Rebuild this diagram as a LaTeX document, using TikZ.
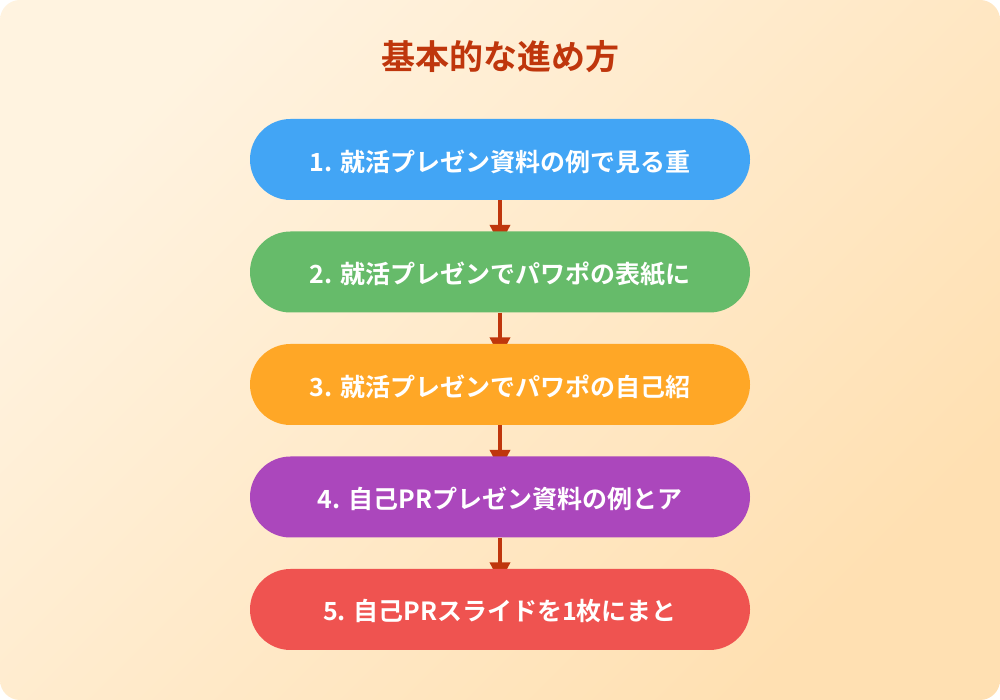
\documentclass[tikz,border=0pt]{standalone}
\usepackage{fontspec}
\setmainfont{Noto Sans CJK JP}
\newfontfamily\jpbold{Noto Sans CJK JP Bold}
\usetikzlibrary{arrows.meta}
\definecolor{bgA}{HTML}{FFF3E0}
\definecolor{bgB}{HTML}{FFE0B2}
\definecolor{titlec}{HTML}{BF360C}
\definecolor{arrc}{HTML}{BF360C}
\definecolor{c1}{HTML}{42A5F5}
\definecolor{c2}{HTML}{66BB6A}
\definecolor{c3}{HTML}{FFA726}
\definecolor{c4}{HTML}{AB47BC}
\definecolor{c5}{HTML}{EF5350}
\pgfdeclarelayer{bg}
\pgfdeclarelayer{arrows}
\pgfsetlayers{bg,arrows,main}
\tikzset{
  stepbox/.style={minimum width=500pt, minimum height=81pt, rounded corners=40.5pt,
    inner sep=0pt, text=white, font=\jpbold\fontsize{25}{30}\selectfont},
  steplabel/.style={text=white, font=\jpbold\fontsize{25}{30}\selectfont, inner sep=0pt},
  flowarr/.style={draw=arrc, line width=4pt, -{Triangle[width=20pt,length=20pt]}, shorten >=-13.5pt},
  titletext/.style={text=titlec, font=\jpbold\fontsize{34}{40}\selectfont}
}
\begin{document}
\begin{tikzpicture}[x=1pt,y=1pt]
\useasboundingbox (0,0) rectangle (1000,700);
\begin{pgfonlayer}{bg}
\fill[white] (0,0) rectangle (1000,700);
\shade[top color=bgA, bottom color=bgB, shading angle=45, rounded corners=20pt] (0,0) rectangle (1000,700);
\end{pgfonlayer}
\node[titletext] (title) at (500,643) {基本的な進め方};
\node[stepbox, fill=c1] (b1) at (500,540.5) {};
\node[stepbox, fill=c2] (b2) at (500,428) {};
\node[stepbox, fill=c3] (b3) at (500,315.5) {};
\node[stepbox, fill=c4] (b4) at (500,203) {};
\node[stepbox, fill=c5] (b5) at (500,90.5) {};
\node[steplabel] (t1) at ([yshift=-2pt]b1.center) {1. 就活プレゼン資料の例で見る重};
\node[steplabel] (t2) at ([yshift=-2pt]b2.center) {2. 就活プレゼンでパワポの表紙に};
\node[steplabel] (t3) at ([yshift=-2pt]b3.center) {3. 就活プレゼンでパワポの自己紹};
\node[steplabel] (t4) at ([yshift=-2pt]b4.center) {4. 自己PRプレゼン資料の例とア};
\node[steplabel] (t5) at ([yshift=-2pt]b5.center) {5. 自己PRスライドを1枚にまと};
\begin{pgfonlayer}{arrows}
\draw[flowarr] (b1.south) -- (b2.north);
\draw[flowarr] (b2.south) -- (b3.north);
\draw[flowarr] (b3.south) -- (b4.north);
\draw[flowarr] (b4.south) -- (b5.north);
\end{pgfonlayer}
\end{tikzpicture}
\end{document}
